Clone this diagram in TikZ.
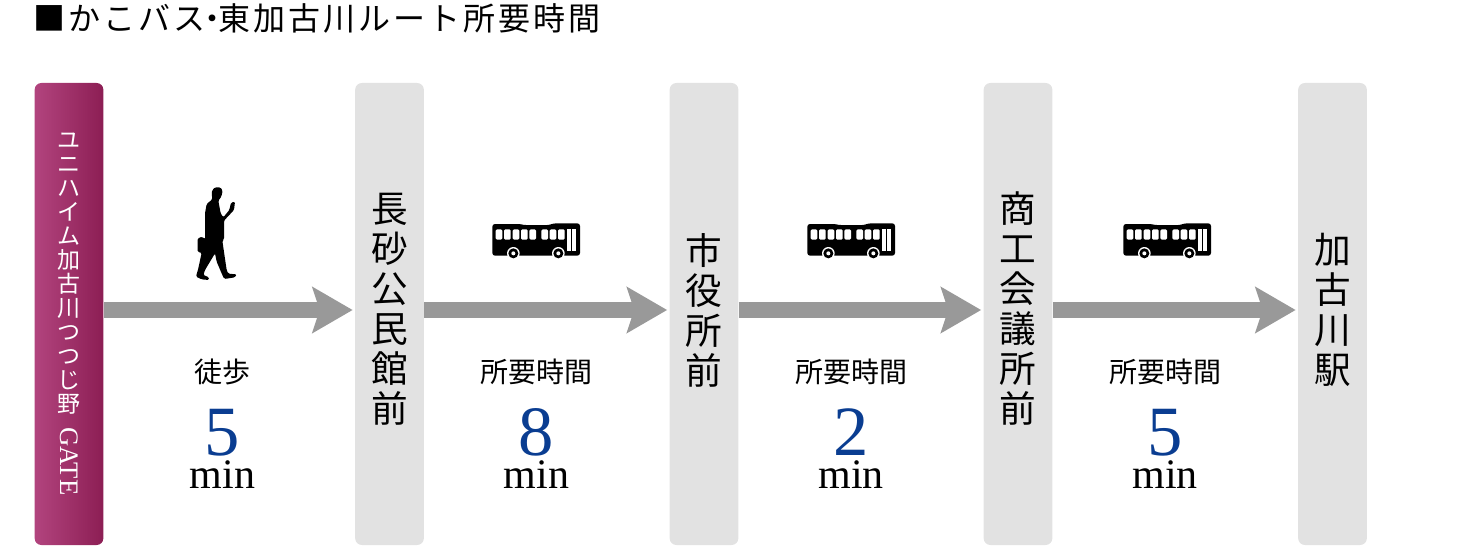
\documentclass[tikz,border=0pt]{standalone}
\usepackage{fontspec}
\setmainfont{Liberation Serif}
\newfontfamily\jpfont{Noto Sans CJK JP}
\newfontfamily\titlefont[LetterSpace=9.5]{Noto Sans CJK JP}
\usetikzlibrary{arrows.meta}
\definecolor{stopgray}{RGB}{226,226,226}
\definecolor{arrowgray}{RGB}{153,153,153}
\definecolor{gateleft}{RGB}{178,68,126}
\definecolor{gateright}{RGB}{140,30,84}
\definecolor{minblue}{RGB}{10,61,145}
\tikzset{
  every picture/.style={line width=0.75pt},
  stopbox/.style={rounded corners=5pt,fill=stopgray,minimum width=51.5pt,minimum height=346.5pt,inner sep=0pt},
  gatebox/.style={stopbox,fill=none,left color=gateleft,right color=gateright,text=white,align=center,font=\jpfont\fontsize{17.25}{18}\selectfont},
  stoptext/.style={inner sep=0pt,align=center,font=\jpfont\fontsize{27.5}{30}\selectfont},
  flowarrow/.style={draw=arrowgray,line width=12pt,shorten >=1.5pt,-{Stealth[length=30pt,width=34pt,inset=5.25pt,fill=arrowgray]}},
  timetext/.style={inner sep=0pt,font=\jpfont\fontsize{21}{21}\selectfont},
  timenum/.style={inner sep=0pt,anchor=base,text=minblue,font=\fontsize{53}{53}\selectfont},
  timeunit/.style={inner sep=0pt,anchor=base,font=\fontsize{31.5}{32}\selectfont},
  busicon/.pic={
    \begin{scope}[scale=1/3]
    \fill[rounded corners=2pt] (22,122) -- (22,27) -- (105,27) -- (115,30) -- (195,30) -- (205,25) -- (285,25) -- (285,122) -- cycle ;
    \foreach \wx in {32,57,83,108,133,169,194,219}
      \fill[white,rounded corners=1pt] (\wx,43) rectangle ++(20,31) ;
    \fill[white] (247,43) rectangle (258,108) ;
    \fill[white] (262,43) rectangle (273,108) ;
    \foreach \wx in {85,220} {
      \fill[white] (\wx,115) circle (19) ;
      \fill (\wx,115) circle (15) ;
      \fill[white] (\wx,115) circle (6) ;
    }
    \end{scope}
  },
  walker/.pic={
    \begin{scope}[scale=1/3]
    \fill[rounded corners=1pt] (82,30) -- (90,22) -- (106,22) -- (113,32) -- (109,50) -- (100,62) -- (107,100) -- (115,112) -- (133,90) -- (138,68) -- (150,65) -- (147,90) -- (117,122) -- (117,178) -- (112,182) -- (125,270) -- (130,281) -- (155,283) -- (150,292) -- (118,297) -- (112,285) -- (95,245) -- (90,220) -- (60,270) -- (55,285) -- (72,292) -- (72,300) -- (50,298) -- (33,290) -- (40,265) -- (50,218) -- (38,216) -- (38,175) -- (52,170) -- (60,178) -- (60,100) -- (65,72) -- (82,58) -- (80,40) -- cycle ;
    \end{scope}
  },
}

\begin{document}
\begin{tikzpicture}[x=0.75pt,y=0.75pt,yscale=-1]
\useasboundingbox (0,0) rectangle (1460,560);

% Title
\node (title) [anchor=west,inner sep=0pt,font=\titlefont\fontsize{24}{24}\selectfont] at (33,18) {■かこバス\kern-.3em・\kern-.3em東加古川ルート所要時間};

% Stops
\node (gate) [gatebox] at (69,314) {ユ\\ニ\\ハ\\イ\\ム\\加\\古\\川\\つ\\つ\\じ\\野\\[-6.5pt]\fontsize{20}{18}\selectfont\rmfamily\rotatebox{-90}{GATE}};
\node (nagasuna) [stopbox] at (389.5,314) {};
\node (shiyakusho) [stopbox] at (704,314) {};
\node (shoko) [stopbox] at (1018,314) {};
\node (kakogawa) [stopbox] at (1332.5,314) {};

% Stop names
\node (nagasunatext) [stoptext] at (389.5,309) {長\\砂\\公\\民\\館\\前};
\node (shiyakushotext) [stoptext] at (704,310) {市\\役\\所\\前};
\node (shokotext) [stoptext] at (1018,309) {商\\工\\会\\議\\所\\前};
\node (kakogawatext) [stoptext] at (1332.5,310) {加\\古\\川\\駅};

% Arrows
\draw [flowarrow] ([yshift=-3pt]gate.east) -- ([yshift=-3pt]nagasuna.west) ;
\draw [flowarrow] ([yshift=-3pt]nagasuna.east) -- ([yshift=-3pt]shiyakusho.west) ;
\draw [flowarrow] ([yshift=-3pt]shiyakusho.east) -- ([yshift=-3pt]shoko.west) ;
\draw [flowarrow] ([yshift=-3pt]shoko.east) -- ([yshift=-3pt]kakogawa.west) ;

% Icons
\pic [transform shape] at (185,180) {walker};
\pic [transform shape] at (485,215) {busicon};
\pic [transform shape] at (800,215) {busicon};
\pic [transform shape] at (1116,215) {busicon};

% Times
\node (walklabel) [timetext] at (222.5,372) {徒歩};
\node (walknum) [timenum] at (222.5,455) {5};
\node (walkunit) [timeunit] at (222.5,488) {min};

\node (busalabel) [timetext] at (536.5,372) {所要時間};
\node (busanum) [timenum] at (536.5,455) {8};
\node (busaunit) [timeunit] at (536.5,488) {min};

\node (busblabel) [timetext] at (851,372) {所要時間};
\node (busbnum) [timenum] at (851,455) {2};
\node (busbunit) [timeunit] at (851,488) {min};

\node (busclabel) [timetext] at (1165,372) {所要時間};
\node (buscnum) [timenum] at (1165,455) {5};
\node (buscunit) [timeunit] at (1165,488) {min};
\end{tikzpicture}
\end{document}
